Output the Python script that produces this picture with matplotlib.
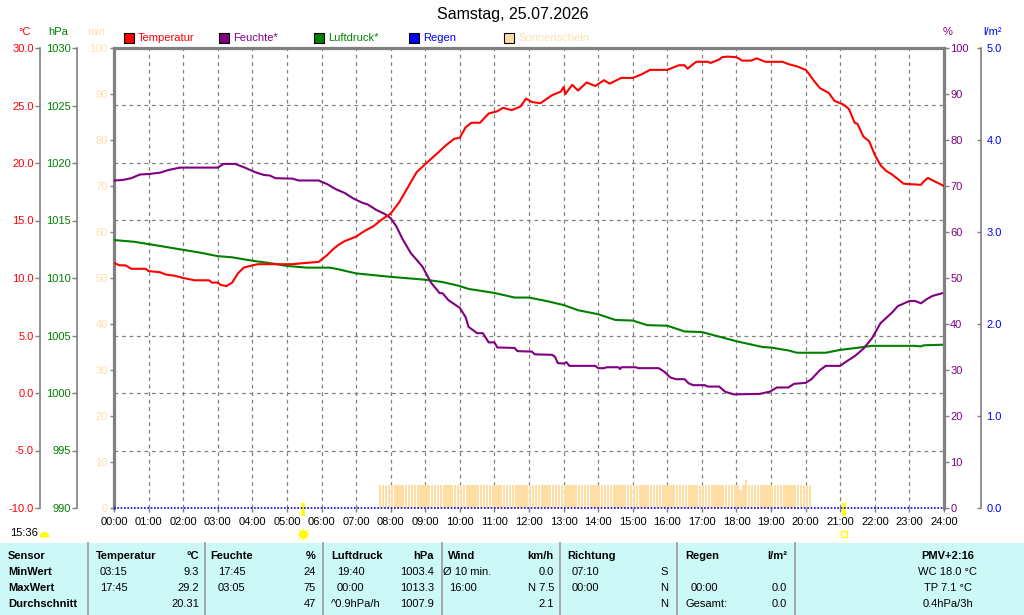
import matplotlib
matplotlib.use("Agg")
import matplotlib.pyplot as plt
from matplotlib.patches import Rectangle, Wedge
from matplotlib.lines import Line2D
from matplotlib.transforms import IdentityTransform, blended_transform_factory
import numpy as np

plt.rcParams['font.family'] = ['Liberation Sans', 'DejaVu Sans']

# ---------------- data ----------------
title = "Samstag, 25.07.2026"

temp_times = ["00:00", "00:10", "00:20", "00:30", "00:55", "01:00", "01:20", "01:30", "01:45", "02:00",
              "02:20", "02:45", "02:50", "03:00", "03:05", "03:15", "03:25", "03:35", "03:45", "04:00",
              "04:10", "05:10", "05:30", "05:55", "06:00", "06:10", "06:20", "06:30", "06:40", "06:50",
              "07:00", "07:15", "07:30", "07:45", "08:00", "08:15", "08:30", "08:45", "09:00", "09:20",
              "09:35", "09:50", "10:00", "10:10", "10:20", "10:35", "10:50", "11:05", "11:15", "11:30",
              "11:45", "11:55", "12:05", "12:20", "12:40", "12:55", "13:00", "13:03", "13:15", "13:25",
              "13:40", "13:55", "14:10", "14:20", "14:40", "15:00", "15:15", "15:30", "16:00", "16:05",
              "16:20", "16:30", "16:35", "16:50", "17:10", "17:15", "17:30", "17:35", "17:45", "18:00",
              "18:10", "18:25", "18:35", "18:50", "19:20", "19:30", "19:45", "20:00", "20:05", "20:15",
              "20:25", "20:40", "20:50", "21:05", "21:15", "21:25", "21:30", "21:40", "21:50", "22:00",
              "22:10", "22:20", "22:30", "22:50", "23:20", "23:25", "23:32", "23:40", "24:00"]
temp_vals = [11.3, 11.1, 11.1, 10.8, 10.8, 10.6, 10.5, 10.3, 10.2, 10.0,
             9.8, 9.8, 9.6, 9.6, 9.4, 9.3, 9.6, 10.4, 10.9, 11.1,
             11.2, 11.2, 11.3, 11.4, 11.6, 12.0, 12.5, 12.9, 13.2, 13.4,
             13.6, 14.1, 14.5, 15.1, 15.6, 16.6, 17.9, 19.2, 19.9, 20.8,
             21.5, 22.1, 22.2, 23.1, 23.5, 23.5, 24.3, 24.5, 24.8, 24.6,
             24.9, 25.6, 25.3, 25.2, 25.9, 26.2, 26.6, 26.0, 26.8, 26.3,
             27.0, 26.7, 27.2, 26.9, 27.4, 27.4, 27.7, 28.1, 28.1, 28.2,
             28.5, 28.5, 28.2, 28.8, 28.8, 28.7, 29.0, 29.2, 29.25, 29.2,
             28.9, 28.9, 29.1, 28.8, 28.8, 28.6, 28.4, 28.1, 27.8, 27.1,
             26.5, 26.1, 25.4, 25.1, 24.7, 23.5, 23.4, 22.3, 21.9, 20.7,
             19.8, 19.3, 19.0, 18.2, 18.1, 18.4, 18.7, 18.5, 18.0]

hum_times = ["00:00", "00:15", "00:30", "00:45", "01:00", "01:20", "01:35", "01:55", "03:00", "03:10",
             "03:30", "03:45", "04:05", "04:20", "04:30", "04:40", "05:10", "05:20", "05:55", "06:10",
             "06:25", "06:40", "06:55", "07:10", "07:20", "07:35", "07:50", "08:00", "08:10", "08:20",
             "08:35", "08:55", "09:10", "09:25", "09:30", "09:40", "10:00", "10:10", "10:15", "10:30",
             "10:40", "10:50", "11:00", "11:05", "11:35", "11:40", "12:05", "12:10", "12:40", "12:45",
             "12:50", "13:00", "13:05", "13:10", "13:55", "14:00", "14:10", "14:15", "14:35", "14:38",
             "14:40", "15:05", "15:10", "15:45", "15:55", "16:05", "16:15", "16:30", "16:37", "16:45",
             "17:05", "17:10", "17:30", "17:40", "17:55", "18:40", "18:58", "19:10", "19:30", "19:40",
             "20:00", "20:10", "20:25", "20:35", "21:00", "21:10", "21:25", "21:40", "21:55", "22:10",
             "22:30", "22:40", "23:00", "23:10", "23:20", "23:30", "23:40", "24:00"]
hum_vals = [71.2, 71.3, 71.7, 72.5, 72.6, 72.9, 73.5, 74.0, 74.0, 74.8,
            74.8, 74.1, 73.0, 72.4, 72.3, 71.7, 71.6, 71.2, 71.2, 70.4,
            69.3, 68.5, 67.3, 66.4, 66.0, 64.8, 63.9, 63.0, 61.2, 58.6,
            55.4, 52.5, 49.0, 46.7, 46.7, 45.2, 43.5, 41.5, 39.4, 38.0,
            38.0, 36.0, 36.0, 34.9, 34.8, 34.1, 34.0, 33.4, 33.3, 32.9,
            31.5, 31.4, 31.7, 30.9, 30.9, 30.4, 30.4, 30.6, 30.6, 30.2,
            30.6, 30.6, 30.4, 30.4, 29.6, 28.4, 28.0, 28.0, 27.1, 26.7,
            26.7, 26.4, 26.4, 25.3, 24.7, 24.8, 25.3, 26.2, 26.2, 27.0,
            27.2, 28.0, 30.0, 30.9, 30.9, 31.8, 33.0, 34.6, 36.9, 40.2,
            42.5, 43.9, 45.0, 45.0, 44.5, 45.4, 46.1, 46.8]

pres_times = ["00:00", "00:35", "01:00", "01:30", "02:00", "02:30", "03:00", "03:25", "04:00", "04:30",
              "05:00", "05:35", "06:15", "06:30", "07:00", "08:00", "09:00", "09:30", "10:00", "10:15",
              "11:00", "11:35", "12:00", "12:30", "13:00", "13:25", "14:00", "14:30", "15:00", "15:25",
              "16:00", "16:30", "17:00", "17:30", "18:00", "18:45", "19:00", "19:30", "19:45", "20:35",
              "21:00", "21:25", "21:55", "23:10", "23:20", "23:25", "24:00"]
pres_vals = [1013.3, 1013.15, 1012.95, 1012.7, 1012.45, 1012.2, 1011.9, 1011.8, 1011.5, 1011.3,
             1011.05, 1010.9, 1010.9, 1010.75, 1010.4, 1010.1, 1009.85, 1009.65, 1009.3, 1009.05,
             1008.7, 1008.3, 1008.3, 1008.0, 1007.65, 1007.2, 1006.85, 1006.35, 1006.3, 1005.9,
             1005.85, 1005.35, 1005.3, 1004.9, 1004.5, 1004.0, 1003.95, 1003.7, 1003.5, 1003.5,
             1003.75, 1003.9, 1004.1, 1004.1, 1004.05, 1004.15, 1004.2]

rain_times = ["00:00", "24:00"]
rain_vals = [0.0, 0.0]

# sunshine minutes per 5-minute interval, starting 07:40
sun_start = "07:40"
sun_vals = [5, 5, 5, 5,                                   # 07:40-07:55
            5, 5, 5, 5, 5, 5, 5, 5, 5, 5, 5, 5,           # 08
            5, 5, 5, 5, 5, 5, 5, 5, 5, 5, 5, 5,           # 09
            5, 5, 5, 5, 5, 5, 5, 5, 5, 5, 5, 5,           # 10
            5, 5, 5, 5, 5, 5, 5, 5, 5, 5, 5, 5,           # 11
            5, 5, 5, 5, 5, 5, 5, 5, 5, 5, 5, 5,           # 12
            5, 5, 5, 5, 5, 5, 5, 5, 5, 5, 5, 5,           # 13
            5, 5, 5, 5, 5, 5, 5, 5, 5, 5, 5, 5,           # 14
            5, 5, 5, 5, 5, 5, 5, 5, 5, 5, 5, 5,           # 15
            5, 5, 5, 5, 5, 5, 5, 5, 5, 5, 5, 5,           # 16
            5, 5, 5, 5, 5, 5, 5, 5, 5, 5, 5, 5,           # 17
            5, 4, 5, 6, 5, 5, 5, 5, 5, 5, 5, 5,           # 18
            5, 5, 5, 5, 5, 5, 5, 5, 5, 5, 5, 5,           # 19
            5, 5]                                         # 20:00-20:05

hour_labels = ["%02d:00" % h for h in range(25)]
sunrise = "05:28"
sunset = "21:06"
now_label = "15:36"

legend_names = ["Temperatur", "Feuchte*", "Luftdruck*", "Regen", "Sonnenschein"]

table_header = ["Sensor", "Temperatur", "°C", "Feuchte", "%", "Luftdruck", "hPa", "Wind", "km/h",
                "Richtung", "", "Regen", "l/m²", "PMV+2:16"]
table_rows = [
    ["MinWert", "03:15", "9.3", "17:45", "24", "19:40", "1003.4", "Ø 10 min.", "0.0", "07:10", "S", "", "", "WC 18.0 °C"],
    ["MaxWert", "17:45", "29.2", "03:05", "75", "00:00", "1013.3", "16:00", "N 7.5", "00:00", "N", "00:00", "0.0", "TP 7.1 °C"],
    ["Durchschnitt", "", "20.31", "", "47", "^0.9hPa/h", "1007.9", "", "2.1", "", "N", "Gesamt:", "0.0", "0.4hPa/3h"],
]

# ---------------- style ----------------
C_T = "#FF0000"
C_H = "#800080"
C_P = "#008000"
C_R = "#0000FF"
C_S = "#FFDEA6"
C_SL = "#FFDEAD"
GRID = "#808080"
FS = 8
LW = 1.5

def hrs(s):
    h, m = s.split(":")
    return int(h) + int(m) / 60.0

W, H = 1024, 615
fig = plt.figure(figsize=(10.24, 6.15), dpi=100)
fig.patch.set_facecolor("white")

def px(x):
    return x / W

def py(y):
    return 1 - y / H

L, R, T, B = 114, 944, 48, 508
rect = [px(L), py(B), (R - L) / W, (B - T) / H]

def overlay(ax):
    ax.patch.set_visible(False)
    for s in ax.spines.values():
        s.set_visible(False)
    ax.xaxis.set_visible(False)
    ax.set_xlim(0, 24)

# sunshine / main frame axes
ax_s = fig.add_axes(rect)
ax_s.set_xlim(0, 24)
ax_s.set_ylim(0, 100)
ax_s.patch.set_visible(False)
for k in ["right", "bottom"]:
    ax_s.spines[k].set_visible(False)
for k in ["left", "top"]:
    ax_s.spines[k].set_color(GRID)
    ax_s.spines[k].set_linewidth(2.3)
sun_x = [hrs(sun_start) + i * 5 / 60.0 for i in range(len(sun_vals))]
ax_s.bar(sun_x, sun_vals, width=4.0 / 60.0, color=C_S, align="edge", zorder=1, linewidth=0)
ax_s.set_yticks(np.arange(0, 101, 10))
ax_s.set_yticks(np.linspace(0, 100, 9), minor=True)
ax_s.tick_params(axis="y", which="major", colors=GRID, labelcolor=C_SL, length=3, width=1,
                 labelsize=FS, pad=1.5)
ax_s.tick_params(axis="y", which="minor", length=0)
ax_s.set_xticks(range(25))
ax_s.set_xticklabels(hour_labels)
ax_s.tick_params(axis="x", length=3, width=1, colors=GRID, labelcolor="black", labelsize=FS, pad=3.5)
ax_s.grid(axis="x", color=GRID, linestyle=(0, (3, 3)), linewidth=0.9, zorder=0)
ax_s.grid(axis="y", which="minor", color=GRID, linestyle=(0, (3, 3)), linewidth=0.9, zorder=0)
ax_s.set_axisbelow(True)

# sunrise / sunset markers
bt = blended_transform_factory(ax_s.transData, ax_s.transAxes)
for t in [sunrise, sunset]:
    ax_s.plot([hrs(t), hrs(t)], [0.011, -0.018], color="#FFFF00", lw=2.6, transform=bt,
              clip_on=False, solid_capstyle="butt", zorder=5)
ax_s.plot([hrs(sunrise)], [-0.057], marker="o", ms=5, color="#FFFF00", mec="#FFEE00",
          transform=bt, clip_on=False)
ax_s.plot([hrs(sunrise)], [-0.057], marker="+", ms=9, mew=0.8, color="#FFFF00",
          transform=bt, clip_on=False)
ax_s.plot([hrs(sunrise)], [-0.057], marker="x", ms=6.5, mew=0.8, color="#FFFF00",
          transform=bt, clip_on=False)
ax_s.plot([hrs(sunset)], [-0.057], marker="s", ms=4.5, mfc="none", mec="#FFFF00", mew=1.0,
          transform=bt, clip_on=False)

# rain axis
ax_r = fig.add_axes(rect, sharex=ax_s)
overlay(ax_r)
ax_r.set_ylim(0, 5)
ax_r.spines["right"].set_visible(True)
ax_r.spines["right"].set_position(("axes", 1 + 37 / 830))
ax_r.spines["right"].set_color(GRID)
ax_r.spines["right"].set_linewidth(1.2)
ax_r.yaxis.tick_right()
ax_r.set_yticks(np.arange(0, 5.1, 1))
ax_r.set_yticklabels(["%.1f" % v for v in np.arange(0, 5.1, 1)])
ax_r.tick_params(axis="y", direction="in", colors=GRID, labelcolor=C_R, length=3, width=1,
                 labelsize=FS, pad=4)
ax_r.plot([hrs(t) for t in rain_times], rain_vals, color=C_R, lw=1.2, linestyle=(0, (1, 1)),
          clip_on=False)

# pressure axis
ax_p = fig.add_axes(rect, sharex=ax_s)
overlay(ax_p)
ax_p.set_ylim(990, 1030)
ax_p.spines["left"].set_visible(True)
ax_p.spines["left"].set_position(("axes", -37 / 830))
ax_p.spines["left"].set_color(GRID)
ax_p.spines["left"].set_linewidth(1.2)
ax_p.set_yticks(np.arange(990, 1031, 5))
ax_p.tick_params(axis="y", colors=GRID, labelcolor=C_P, length=3.5, width=1, labelsize=FS, pad=1)
ax_p.plot([hrs(t) for t in pres_times], pres_vals, color=C_P, lw=LW)

# humidity axis
ax_h = fig.add_axes(rect, sharex=ax_s)
overlay(ax_h)
ax_h.set_ylim(0, 100)
ax_h.spines["right"].set_visible(True)
ax_h.spines["right"].set_color(GRID)
ax_h.spines["right"].set_linewidth(2.3)
ax_h.yaxis.tick_right()
ax_h.set_yticks(np.arange(0, 101, 10))
ax_h.tick_params(axis="y", colors=GRID, labelcolor=C_H, length=3.5, width=1, labelsize=FS, pad=1)
ax_h.plot([hrs(t) for t in hum_times], hum_vals, color=C_H, lw=LW)

# temperature axis
ax_t = fig.add_axes(rect, sharex=ax_s)
overlay(ax_t)
ax_t.set_ylim(-10, 30)
ax_t.spines["left"].set_visible(True)
ax_t.spines["left"].set_position(("axes", -74 / 830))
ax_t.spines["left"].set_color(GRID)
ax_t.spines["left"].set_linewidth(1.2)
ax_t.set_yticks(np.arange(-10, 31, 5))
ax_t.set_yticklabels(["%.1f" % v for v in np.arange(-10, 31, 5)])
ax_t.tick_params(axis="y", colors=GRID, labelcolor=C_T, length=3.5, width=1, labelsize=FS, pad=1)
ax_t.plot([hrs(t) for t in temp_times], temp_vals, color=C_T, lw=LW)

# ---------------- texts ----------------
fig.text(px(513), py(15), title, ha="center", va="center", fontsize=11.5, color="black")
fig.text(px(24.5), py(32), "°C", ha="center", va="center", fontsize=FS, color=C_T)
fig.text(px(58), py(32), "hPa", ha="center", va="center", fontsize=FS, color=C_P)
fig.text(px(96.5), py(32), "min", ha="center", va="center", fontsize=FS, color=C_SL)
fig.text(px(948), py(32), "%", ha="center", va="center", fontsize=FS, color=C_H)
fig.text(px(992), py(32), "l/m²", ha="center", va="center", fontsize=FS, color=C_R)

leg_colors = [C_T, C_H, C_P, C_R, C_S]
leg_textcolors = [C_T, C_H, C_P, C_R, C_SL]
for i, (name, c, tc) in enumerate(zip(legend_names, leg_colors, leg_textcolors)):
    x0 = 124 + 95 * i
    fig.add_artist(Rectangle((px(x0), py(43)), 10 / W, 10 / H, transform=fig.transFigure,
                             facecolor=c, edgecolor="black", linewidth=0.8))
    fig.text(px(x0 + 14), py(38), name, ha="left", va="center", fontsize=FS, color=tc)

fig.text(px(10), py(533), now_label, ha="left", va="center", fontsize=FS, color="black")
fig.add_artist(Wedge((44.5, H - 537), 4.5, 0, 180, transform=IdentityTransform(),
                     facecolor="#FFFF00", edgecolor="#FFEE00", linewidth=0.5))

# ---------------- table ----------------
fig.add_artist(Rectangle((0, 0), 1, py(543), transform=fig.transFigure,
                         facecolor="#CCF9F7", edgecolor="none", zorder=0))
for xs in [88, 205, 323, 442, 560, 677, 795]:
    fig.add_artist(Line2D([px(xs), px(xs)], [py(543), 0], transform=fig.transFigure,
                          color="#A0A0A0", linewidth=1.3))

row_y = [556, 572, 588, 604]
col_pos = [(8, "left"), (100, "left"), (199, "right"), (218, "left"), (316, "right"),
           (337, "left"), (434, "right"), (449, "left"), (554, "right"), (572, "left"),
           (668, "right"), (691, "left"), (787, "right"), (948, "center")]
head_pos = [(8, "left"), (96, "left"), (199, "right"), (210, "left"), (316, "right"),
            (331, "left"), (434, "right"), (448, "left"), (554, "right"), (567, "left"),
            (668, "right"), (685, "left"), (787, "right"), (948, "center")]
for (x, ha), s in zip(head_pos, table_header):
    fig.text(px(x), py(row_y[0]), s, ha=ha, va="center", fontsize=FS, fontweight="bold",
             color="black")
for r, row in enumerate(table_rows):
    for c, ((x, ha), s) in enumerate(zip(col_pos, row)):
        if c == 0:
            fig.text(px(x), py(row_y[r + 1]), s, ha=ha, va="center", fontsize=FS,
                     fontweight="bold", color="black")
        else:
            xx = x
            if s.startswith("^") or s.startswith("Ø") or s.startswith("Gesamt"):
                xx = x - 6
            fig.text(px(xx), py(row_y[r + 1]), s, ha=ha, va="center", fontsize=FS, color="black")

fig.savefig("out.png", dpi=100)
